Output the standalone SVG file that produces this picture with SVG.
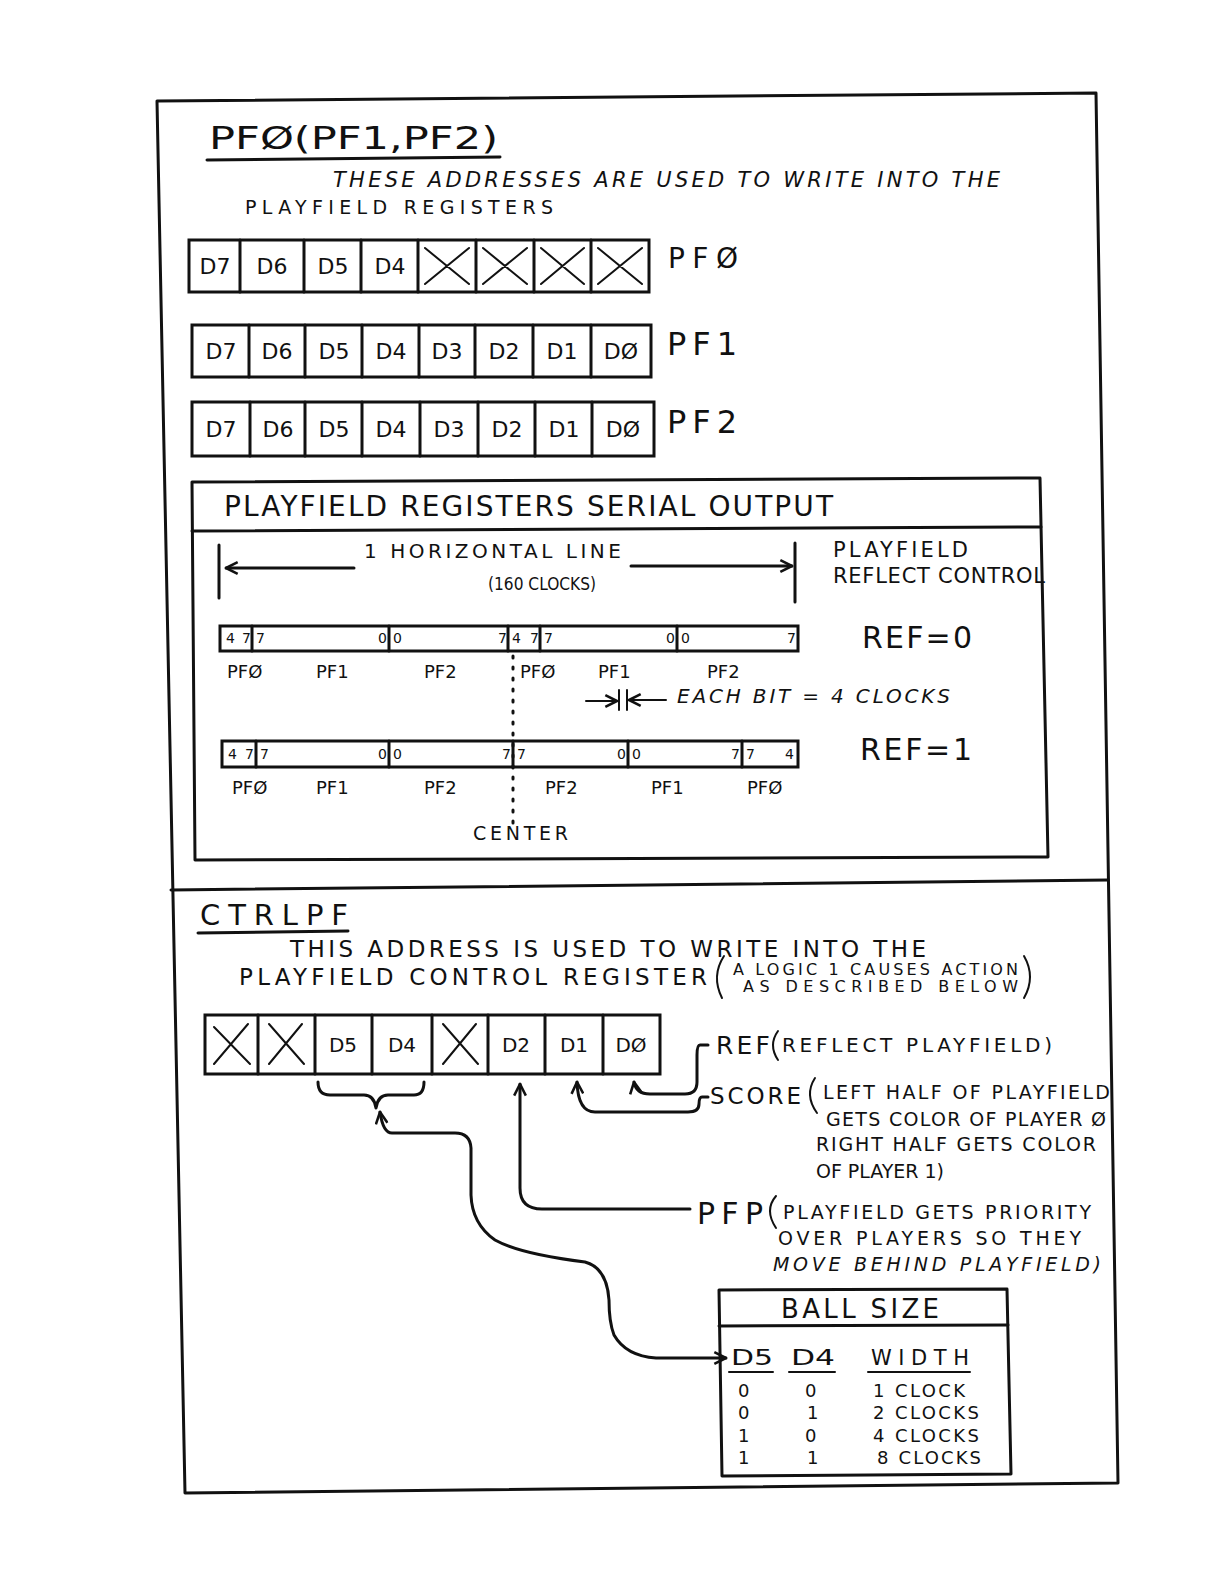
<svg xmlns="http://www.w3.org/2000/svg" width="1224" height="1584" viewBox="0 0 1224 1584">
<defs>
<marker id="ah" viewBox="0 0 12 12" refX="11" refY="6" markerWidth="14" markerHeight="14" markerUnits="userSpaceOnUse" orient="auto-start-reverse">
<path d="M1,1 L11,6 L1,11" fill="none" stroke="#111" stroke-width="2.2"/>
</marker>
<style>
.ln{stroke:#111;stroke-width:3;fill:none;stroke-linecap:round;stroke-linejoin:round}
.th{stroke:#111;stroke-width:2;fill:none;stroke-linecap:round}
.box{stroke:#111;stroke-width:3;fill:#fff}
.t{font-family:"DejaVu Sans","Liberation Sans",Arial,sans-serif;fill:#111}
.i{font-style:italic}
.c{text-anchor:middle}
.reg{font-size:22px}
.bit{font-size:14px}
.lab{font-size:18px}
</style>
</defs>
<rect width="1224" height="1584" fill="#fff"/>

<g id="frame">
<path class="ln" d="M157,101 L1096,93 L1118,1483 L185,1493 Z"/>
<path class="ln" d="M171,890 L1108,880"/>
</g>

<g id="pf-title">
<text class="t" x="209" y="149" font-size="32" textLength="289" lengthAdjust="spacingAndGlyphs">PFØ(PF1,PF2)</text>
<path class="ln" d="M207,160 L500,157"/>
<text class="t i" x="333" y="187" font-size="21" textLength="667" lengthAdjust="spacing">THESE ADDRESSES ARE USED TO WRITE INTO THE</text>
<text class="t" x="245" y="214" font-size="19" textLength="308" lengthAdjust="spacing">PLAYFIELD REGISTERS</text>
</g>

<g id="reg-pf0">
<rect class="box" x="189" y="240" width="460" height="52"/>
<path class="ln" d="M240,240V292 M304,240V292 M361,240V292 M418,240V292 M476,240V292 M534,240V292 M591,240V292"/>
<g class="t reg c">
<text x="215" y="274">D7</text><text x="272" y="274">D6</text><text x="333" y="274">D5</text><text x="390" y="274">D4</text>
</g>
<path class="th" d="M425,248 L469,284 M469,248 L425,284 M483,248 L527,284 M527,248 L483,284 M541,248 L584,284 M584,248 L541,284 M598,248 L642,284 M642,248 L598,284" stroke-width="2.5"/>
<text class="t" x="668" y="268" font-size="28" textLength="70" lengthAdjust="spacing">PFØ</text>
</g>

<g id="reg-pf1">
<rect class="box" x="192" y="325" width="459" height="52"/>
<path class="ln" d="M249,325V377 M305,325V377 M362,325V377 M419,325V377 M475,325V377 M533,325V377 M591,325V377"/>
<g class="t reg c">
<text x="221" y="359">D7</text><text x="277" y="359">D6</text><text x="334" y="359">D5</text><text x="391" y="359">D4</text><text x="447" y="359">D3</text><text x="504" y="359">D2</text><text x="562" y="359">D1</text><text x="621" y="359">DØ</text>
</g>
<text class="t" x="667" y="355" font-size="32" textLength="70" lengthAdjust="spacing">PF1</text>
</g>

<g id="reg-pf2">
<rect class="box" x="192" y="402" width="462" height="54"/>
<path class="ln" d="M250,402V456 M305,402V456 M362,402V456 M420,402V456 M478,402V456 M535,402V456 M592,402V456"/>
<g class="t reg c">
<text x="221" y="437">D7</text><text x="278" y="437">D6</text><text x="334" y="437">D5</text><text x="391" y="437">D4</text><text x="449" y="437">D3</text><text x="507" y="437">D2</text><text x="564" y="437">D1</text><text x="623" y="437">DØ</text>
</g>
<text class="t" x="667" y="433" font-size="32" textLength="70" lengthAdjust="spacing">PF2</text>
</g>

<g id="serial-output">
<path class="ln" d="M192,482 L1040,478 L1048,857 L195,860 Z"/>
<path class="ln" d="M192,531 L1041,527"/>
<text class="t" x="224" y="516" font-size="28" textLength="609" lengthAdjust="spacing">PLAYFIELD REGISTERS SERIAL OUTPUT</text>
<path class="ln" d="M219,545 V598 M795,543 V602"/>
<path class="ln" d="M354,568 H226" marker-end="url(#ah)"/>
<path class="ln" d="M631,566 H792" marker-end="url(#ah)"/>
<text class="t" x="364" y="558" font-size="20" textLength="257" lengthAdjust="spacing">1 HORIZONTAL LINE</text>
<text class="t" x="488" y="590" font-size="18" textLength="108" lengthAdjust="spacingAndGlyphs">(160 CLOCKS)</text>
<text class="t" x="833" y="557" font-size="21" textLength="135" lengthAdjust="spacing">PLAYFIELD</text>
<text class="t" x="833" y="583" font-size="21" textLength="212" lengthAdjust="spacing">REFLECT CONTROL</text>
</g>

<g id="ref0-bar">
<rect class="box" x="220" y="626" width="578" height="25"/>
<path class="ln" d="M252,626V651 M389,626V651 M508,626V651 M540,626V651 M677,626V651"/>
<g class="t bit">
<text x="226" y="643">4</text><text x="242" y="643">7</text><text x="256" y="643">7</text><text x="378" y="643">0</text><text x="393" y="643">0</text><text x="498" y="643">7</text><text x="512" y="643">4</text><text x="530" y="643">7</text><text x="544" y="643">7</text><text x="666" y="643">0</text><text x="681" y="643">0</text><text x="787" y="643">7</text>
</g>
<text class="t" x="862" y="648" font-size="30" textLength="110" lengthAdjust="spacing">REF=0</text>
<g class="t lab">
<text x="227" y="678">PFØ</text><text x="316" y="678">PF1</text><text x="424" y="678">PF2</text><text x="520" y="678">PFØ</text><text x="598" y="678">PF1</text><text x="707" y="678">PF2</text>
</g>
</g>

<g id="each-bit">
<path class="th" d="M586,701 H617" marker-end="url(#ah)"/>
<path class="th" d="M619,690 V710 M627,690 V710"/>
<path class="th" d="M666,700 H629" marker-end="url(#ah)"/>
<text class="t i" x="677" y="703" font-size="20" textLength="273" lengthAdjust="spacing">EACH BIT = 4 CLOCKS</text>
</g>

<g id="ref1-bar">
<rect class="box" x="222" y="741" width="576" height="26"/>
<path class="ln" d="M256,741V767 M389,741V767 M513,741V767 M628,741V767 M742,741V767"/>
<g class="t bit">
<text x="228" y="759">4</text><text x="245" y="759">7</text><text x="260" y="759">7</text><text x="378" y="759">0</text><text x="393" y="759">0</text><text x="502" y="759">7</text><text x="517" y="759">7</text><text x="617" y="759">0</text><text x="632" y="759">0</text><text x="731" y="759">7</text><text x="746" y="759">7</text><text x="785" y="759">4</text>
</g>
<text class="t" x="860" y="760" font-size="30" textLength="112" lengthAdjust="spacing">REF=1</text>
<g class="t lab">
<text x="232" y="794">PFØ</text><text x="316" y="794">PF1</text><text x="424" y="794">PF2</text><text x="545" y="794">PF2</text><text x="651" y="794">PF1</text><text x="747" y="794">PFØ</text>
</g>
</g>

<g id="center-line">
<path d="M513,656 V826" stroke="#111" stroke-width="3" stroke-dasharray="2,9" stroke-linecap="round" fill="none"/>
<text class="t" x="473" y="840" font-size="19" textLength="95" lengthAdjust="spacing">CENTER</text>
</g>

<g id="ctrlpf-title">
<text class="t" x="200" y="925" font-size="29" textLength="148" lengthAdjust="spacing">CTRLPF</text>
<path class="ln" d="M198,933 L348,931"/>
<text class="t" x="290" y="957" font-size="23" textLength="636" lengthAdjust="spacing">THIS ADDRESS IS USED TO WRITE INTO THE</text>
<text class="t" x="239" y="985" font-size="23" textLength="468" lengthAdjust="spacing">PLAYFIELD CONTROL REGISTER</text>
<path class="th" d="M724,956 Q711,976 722,998"/>
<text class="t" x="733" y="975" font-size="16" textLength="285" lengthAdjust="spacing">A LOGIC 1 CAUSES ACTION</text>
<text class="t" x="743" y="992" font-size="16" textLength="275" lengthAdjust="spacing">AS DESCRIBED BELOW</text>
<path class="th" d="M1024,956 Q1036,977 1024,998"/>
</g>

<g id="reg-ctrlpf">
<rect class="box" x="205" y="1015" width="455" height="59"/>
<path class="ln" d="M258,1015V1074 M315,1015V1074 M372,1015V1074 M432,1015V1074 M488,1015V1074 M545,1015V1074 M603,1015V1074"/>
<path class="th" d="M214,1027 L250,1064 M248,1024 L214,1064 M269,1024 L304,1064 M302,1024 L269,1064 M443,1024 L478,1064 M476,1024 L443,1064" stroke-width="2.5"/>
<g class="t c" font-size="20">
<text x="343" y="1052">D5</text><text x="402" y="1052">D4</text><text x="516" y="1052">D2</text><text x="574" y="1052">D1</text><text x="631" y="1052">DØ</text>
</g>
</g>

<g id="connectors">
<path class="ln" d="M708,1045 H700 Q697,1045 697,1055 V1082 Q697,1094 685,1094 H650 Q636,1094 634,1082" marker-end="url(#ah)"/>
<path class="ln" d="M708,1097 H702 Q699,1097 699,1104 Q699,1112 688,1112 H595 Q578,1112 577,1082" marker-end="url(#ah)"/>
<path class="ln" d="M690,1209 H542 Q520,1209 520,1188 V1084" marker-end="url(#ah)"/>
<path class="ln" d="M318,1082 Q318,1095 330,1095 H364 Q374,1095 376,1108 Q378,1095 388,1095 H414 Q424,1095 424,1082"/>
<path class="ln" d="M726,1358 H656 Q626,1356 614,1335 Q609,1322 609,1300 Q607,1268 585,1262 Q520,1254 495,1240 Q472,1224 471,1195 V1148 Q470,1133 455,1133 H392 Q383,1133 380,1112" marker-start="url(#ah)" marker-end="url(#ah)"/>
</g>

<g id="ref-label">
<text class="t" x="716" y="1054" font-size="25" textLength="54" lengthAdjust="spacing">REF</text>
<path class="th" d="M778,1031 Q768,1045 778,1060"/>
<text class="t" x="782" y="1052" font-size="20" textLength="270" lengthAdjust="spacing">REFLECT PLAYFIELD)</text>
</g>

<g id="score-label">
<text class="t" x="710" y="1104" font-size="23" textLength="91" lengthAdjust="spacing">SCORE</text>
<path class="th" d="M815,1078 Q804,1095 817,1113"/>
<text class="t" x="823" y="1099" font-size="19" textLength="287" lengthAdjust="spacing">LEFT HALF OF PLAYFIELD</text>
<text class="t" x="826" y="1126" font-size="19" textLength="280" lengthAdjust="spacing">GETS COLOR OF PLAYER Ø</text>
<text class="t" x="816" y="1151" font-size="19" textLength="280" lengthAdjust="spacing">RIGHT HALF GETS COLOR</text>
<text class="t" x="816" y="1178" font-size="19" textLength="128" lengthAdjust="spacing">OF PLAYER 1)</text>
</g>

<g id="pfp-label">
<text class="t" x="697" y="1224" font-size="30" textLength="66" lengthAdjust="spacing">PFP</text>
<path class="th" d="M776,1196 Q764,1210 776,1228"/>
<text class="t" x="783" y="1219" font-size="19" textLength="308" lengthAdjust="spacing">PLAYFIELD GETS PRIORITY</text>
<text class="t" x="778" y="1245" font-size="19" textLength="303" lengthAdjust="spacing">OVER PLAYERS SO THEY</text>
<text class="t i" x="773" y="1271" font-size="19" textLength="328" lengthAdjust="spacing">MOVE BEHIND PLAYFIELD)</text>
</g>

<g id="ball-size">
<path class="ln" d="M719,1290 L1007,1289 L1011,1474 L722,1476 Z"/>
<path class="ln" d="M719,1326 L1008,1325"/>
<text class="t" x="781" y="1318" font-size="26" textLength="158" lengthAdjust="spacing">BALL SIZE</text>
<text class="t" x="731" y="1365" font-size="22" textLength="42" lengthAdjust="spacingAndGlyphs">D5</text>
<text class="t" x="791" y="1365" font-size="22" textLength="44" lengthAdjust="spacingAndGlyphs">D4</text>
<text class="t" x="871" y="1365" font-size="21" textLength="98" lengthAdjust="spacing">WIDTH</text>
<path class="th" d="M729,1372 H773 M789,1372 H835 M868,1372 H970" stroke-width="2.5"/>
<g class="t" font-size="18">
<text x="738" y="1397">0</text><text x="805" y="1397">0</text><text x="873" y="1397" textLength="92" lengthAdjust="spacing">1 CLOCK</text>
<text x="738" y="1419">0</text><text x="807" y="1419">1</text><text x="873" y="1419" textLength="106" lengthAdjust="spacing">2 CLOCKS</text>
<text x="738" y="1442">1</text><text x="805" y="1442">0</text><text x="873" y="1442" textLength="106" lengthAdjust="spacing">4 CLOCKS</text>
<text x="738" y="1464">1</text><text x="807" y="1464">1</text><text x="877" y="1464" textLength="104" lengthAdjust="spacing">8 CLOCKS</text>
</g>
</g>
</svg>
